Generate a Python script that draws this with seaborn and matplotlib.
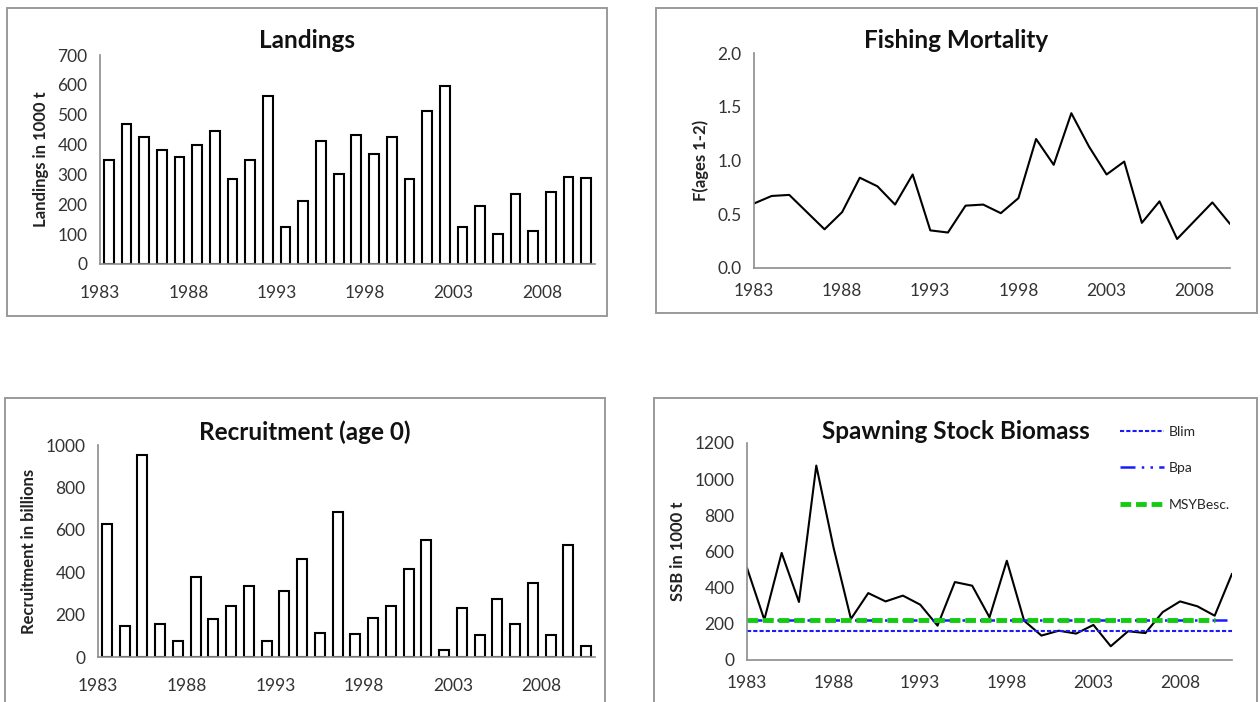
import numpy as np
import pandas as pd
import matplotlib
matplotlib.use("Agg")
import matplotlib.pyplot as plt
import matplotlib.patches as mpatches
from matplotlib.lines import Line2D
import seaborn as sns

# ---------------- data ----------------
years = list(range(1983, 2011))
ssb_years = list(range(1983, 2012))
tick_years = [1983, 1988, 1993, 1998, 2003, 2008]

landings = [350, 468, 425, 382, 359, 400, 445, 284, 347, 562,
            125, 210, 412, 300, 431, 370, 427, 284, 514, 597,
            123, 195, 102, 233, 109, 240, 293, 287]

f_ages12 = [0.60, 0.67, 0.68, 0.52, 0.36, 0.52, 0.84, 0.76, 0.59, 0.87,
            0.35, 0.33, 0.58, 0.59, 0.51, 0.65, 1.20, 0.96, 1.44, 1.13,
            0.87, 0.99, 0.42, 0.62, 0.27, 0.44, 0.61, 0.41]

recruitment = [627, 147, 952, 154, 75, 376, 181, 240, 334, 75,
               309, 462, 114, 683, 108, 184, 240, 415, 554, 33,
               231, 103, 273, 154, 351, 103, 526, 51]

ssb = [509, 223, 592, 321, 1075, 620, 227, 370, 324, 356,
       306, 190, 431, 411, 236, 549, 217, 135, 162, 146,
       194, 76, 159, 149, 265, 324, 297, 245, 477]

blim = 160
bpa = 220
msy_besc = 220

# ---------------- style ----------------
sns.set_theme(style="white")
plt.rcParams['font.family'] = ['Lato', 'DejaVu Sans']

W, H = 1260, 702
fig = plt.figure(figsize=(W / 100, H / 100), dpi=100)

BLIM_STYLE = dict(color="#1a1aff", linestyle=(0, (2, 1)), linewidth=1.5)
BPA_STYLE = dict(color="#1a1aff", linestyle=(0, (6, 2.5, 1, 2.5, 1, 2.5)), linewidth=1.8)
MSY_STYLE = dict(color="#11cc11", linestyle=(0, (2.2, 1.0)), linewidth=3.5)


def px_axes(left, right, top, bottom):
    return fig.add_axes([left / W, 1 - bottom / H, (right - left) / W, (bottom - top) / H])


def frame(left, right, top, bottom, title, title_y):
    fig.patches.append(mpatches.Rectangle((left / W, 1 - bottom / H), (right - left) / W,
                                          (bottom - top) / H, transform=fig.transFigure,
                                          fill=False, edgecolor='#9a9a9a', linewidth=1.4))
    fig.text((left + right) / 2 / W, 1 - title_y / H, title, ha='center', va='baseline',
             fontsize=17.5, fontweight='bold', color='#111111')


def style(ax, ylabel, ylim, yticks, ylabels, xlim, xpad):
    ax.set_xlim(xlim)
    ax.set_ylim(ylim)
    ax.set_yticks(yticks)
    ax.set_yticklabels(ylabels)
    ax.set_xticks(tick_years)
    ax.set_xticklabels([str(y) for y in tick_years])
    sns.despine(ax=ax)
    for s in ['left', 'bottom']:
        ax.spines[s].set_color('#8c8c8c')
        ax.spines[s].set_linewidth(1.2)
    ax.tick_params(axis='both', direction='out', length=5, width=1, color='#8c8c8c',
                   labelsize=12.5, labelcolor='#333333')
    ax.tick_params(axis='x', pad=xpad)
    ax.tick_params(axis='y', pad=4)
    ax.set_xlabel('')
    ax.set_ylabel(ylabel, fontsize=12, fontweight='bold', color='#222222', labelpad=6)
    ax.patch.set_alpha(0)


# ---------------- panel frames + titles ----------------
frame(7, 607, 8, 316, "Landings", 48)
frame(656, 1257, 8, 313, "Fishing Mortality", 48)
frame(5, 605, 398, 705, "Recruitment (age 0)", 440)
frame(654, 1257, 398, 705, "Spawning Stock Biomass", 439)

# ---------------- Landings ----------------
ax1 = px_axes(100, 595, 55, 264)
df1 = pd.DataFrame({"pos": np.array(years) + 0.5, "landings": landings})
sns.barplot(data=df1, x="pos", y="landings", native_scale=True, width=0.55, color="white",
            edgecolor="black", linewidth=1.5, errorbar=None, ax=ax1)
style(ax1, "Landings in 1000 t", (0, 700), range(0, 701, 100),
      [str(v) for v in range(0, 701, 100)], (1983, 2011), 10)

# ---------------- Fishing mortality ----------------
ax2 = px_axes(754, 1230, 53, 268)
df2 = pd.DataFrame({"year": years, "F": f_ages12})
sns.lineplot(data=df2, x="year", y="F", color="black", linewidth=1.5, ax=ax2)
style(ax2, "F(ages 1-2)", (0, 2.0), [0, 0.5, 1.0, 1.5, 2.0],
      ["0.0", "0.5", "1.0", "1.5", "2.0"], (1983, 2010), 6)

# ---------------- Recruitment ----------------
ax3 = px_axes(98, 595, 445, 657)
df3 = pd.DataFrame({"pos": np.array(years) + 0.5, "rec": recruitment})
sns.barplot(data=df3, x="pos", y="rec", native_scale=True, width=0.55, color="white",
            edgecolor="black", linewidth=1.5, errorbar=None, ax=ax3)
style(ax3, "Recruitment in billions", (0, 1000), range(0, 1001, 200),
      [str(v) for v in range(0, 1001, 200)], (1983, 2011), 10)

# ---------------- SSB ----------------
ax4 = px_axes(747, 1232, 443, 660)
df4 = pd.DataFrame({"year": ssb_years, "ssb": ssb})
sns.lineplot(data=df4, x="year", y="ssb", color="black", linewidth=1.5, ax=ax4)
ax4.plot([ssb_years[0], ssb_years[-1]], [blim, blim], **BLIM_STYLE)
ax4.plot([ssb_years[0], ssb_years[-1] - 0.3], [bpa, bpa], **BPA_STYLE)
ax4.plot([ssb_years[0], ssb_years[-2]], [msy_besc, msy_besc], **MSY_STYLE)
style(ax4, "SSB in 1000 t", (0, 1200), range(0, 1201, 200),
      [str(v) for v in range(0, 1201, 200)], (1983, 2011), 6)

handles = [Line2D([], [], **BLIM_STYLE), Line2D([], [], **BPA_STYLE),
           Line2D([], [], **MSY_STYLE)]
fig.legend(handles, ["Blim", "Bpa", "MSYBesc."], loc="upper left",
           bbox_to_anchor=(1113 / W, 1 - 419 / H), frameon=False, fontsize=10,
           handlelength=3.2, handletextpad=0.35, labelspacing=1.75, borderpad=0)

fig.savefig("out.png", dpi=100)
